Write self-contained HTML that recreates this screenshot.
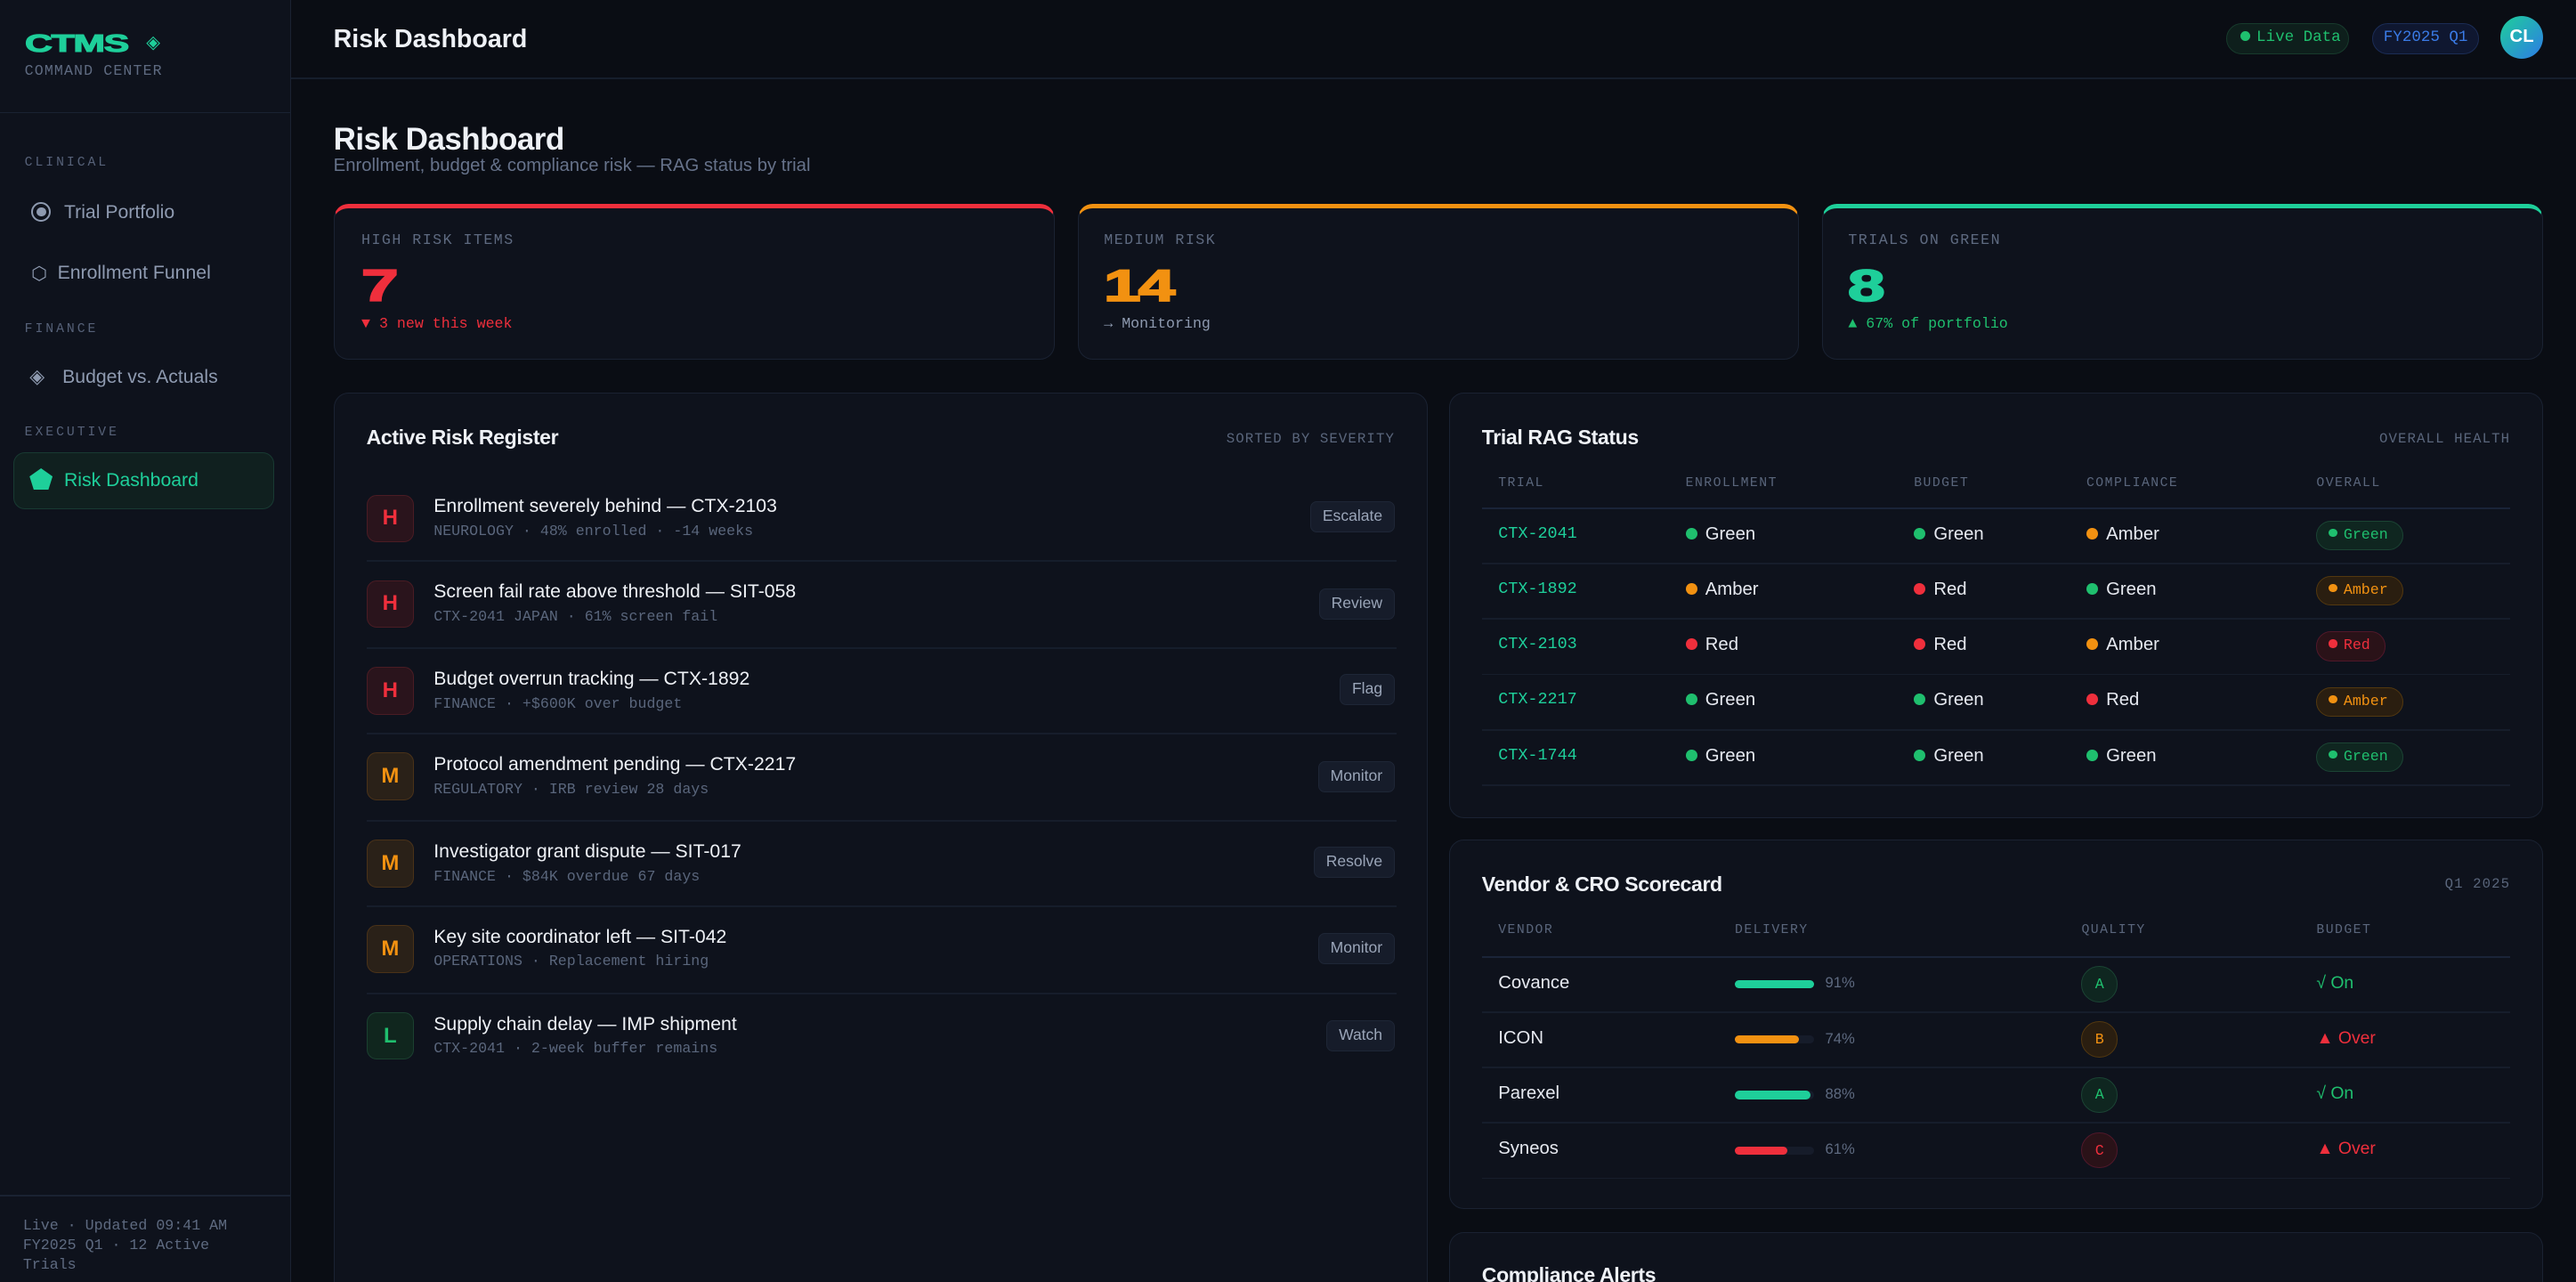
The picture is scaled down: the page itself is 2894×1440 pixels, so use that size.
<!DOCTYPE html>
<html><head><meta charset="utf-8"><style>
*{box-sizing:border-box;margin:0;padding:0}
html,body{width:2894px;height:1440px;overflow:hidden;background:#0a0d14}
#r{zoom:1.84566;width:1568px;height:780px;position:relative;font-family:"Liberation Sans",sans-serif;color:#e6e9f0;overflow:hidden}
.a{position:absolute;white-space:nowrap}
.m{font-family:"Liberation Mono",monospace}
.side{left:0;top:0;width:177px;height:780px;background:#0e121c;border-right:1px solid #1a2232}
.lbl{font-size:8px;letter-spacing:1.6px;color:#566178}
.nav{font-size:11.5px;color:#8e9ab0}
.card{background:#0e121c;border:1px solid #1a2232;border-radius:9px}
.kl{font-size:9px;letter-spacing:.8px;color:#5e6a80}
.kn{font-size:27px;font-weight:900;transform:scaleX(1.5);transform-origin:left;letter-spacing:-1px;-webkit-text-stroke:1px currentColor}
.ks{font-size:9px}
.ttl{font-size:12.5px;font-weight:bold;color:#eef1f6;letter-spacing:-.2px}
.rt{font-size:8.5px;letter-spacing:.6px;color:#5a667c}
.ic{width:29px;height:29px;border-radius:6px;display:flex;align-items:center;justify-content:center;font-weight:900;font-size:13px}
.icH{background:#2a141c;border:1px solid #4a1c24;color:#ef2f3c}
.icM{background:#2a2118;border:1px solid #4a3218;color:#f29111}
.icL{background:#10261e;border:1px solid #1b4030;color:#1fbf6e}
.it{font-size:11.5px;color:#eef1f6}
.im{font-size:9px;color:#5a667c}
.btn{height:19px;padding:0 7px;border-radius:4px;background:#161c2a;border:1px solid #1e2636;font-size:9.5px;color:#9aa5b8;line-height:17px}
.sep{height:1px;background:#161d2b}
.th{font-size:8px;letter-spacing:.8px;color:#5a667c}
.td{font-size:11px;color:#e6e9f0}
.dot{display:inline-block;width:7px;height:7px;border-radius:50%;margin-right:5px;vertical-align:0}
.g{background:#1fbf6e}.o{background:#f29111}.rd{background:#ef2f3c}
.pill{height:18px;border-radius:9px;font-size:9px;padding:0 9px 0 7px;line-height:16px}
.pg{background:#0f2620;border:1px solid #1b4434;color:#1fbf6e}
.po{background:#2a1e10;border:1px solid #53380f;color:#f29111}
.pr{background:#2a1218;border:1px solid #50182a;color:#ef2f3c}
.gr{width:22px;height:22px;border-radius:50%;font-size:9px;display:flex;align-items:center;justify-content:center}
</style></head><body><div id="r">
<div class="a side"></div>
<div class="a" style="left:15px;top:18px;font-size:15px;font-weight:900;color:#1ecf9a;transform:scaleX(1.55);transform-origin:left;letter-spacing:-.5px;-webkit-text-stroke:.6px #1ecf9a">CTMS</div>
<div class="a" style="left:89px;top:19px;font-size:11px;color:#1ecf9a">◈</div>
<div class="a m" style="left:15px;top:38px;font-size:9px;color:#5e6a80;letter-spacing:.6px">COMMAND CENTER</div>
<div class="a" style="left:0;top:68px;width:177px;height:1px;background:#1a2232"></div>
<div class="a m lbl" style="left:15px;top:95px">CLINICAL</div>
<div class="a" style="left:19px;top:123px;width:12px;height:12px;border-radius:50%;border:1.5px solid #8e9ab0;padding:2px"><div style="width:100%;height:100%;border-radius:50%;background:#8e9ab0"></div></div>
<div class="a nav" style="left:39px;top:123px">Trial Portfolio</div>
<div class="a" style="left:19px;top:160px;font-size:11px;color:#8e9ab0">⬡</div>
<div class="a nav" style="left:35px;top:160px">Enrollment Funnel</div>
<div class="a m lbl" style="left:15px;top:196px">FINANCE</div>
<div class="a" style="left:18px;top:222px;font-size:12px;color:#8e9ab0">◈</div>
<div class="a nav" style="left:38px;top:223px">Budget vs. Actuals</div>
<div class="a m lbl" style="left:15px;top:259px">EXECUTIVE</div>
<div class="a" style="left:8px;top:275px;width:159px;height:35px;border-radius:7px;background:#10201f;border:1px solid #183a32"></div>
<div class="a" style="left:18px;top:285px;width:14px;height:13px;background:#1ecf9a;clip-path:polygon(50% 0,100% 38%,82% 100%,18% 100%,0 38%)"></div>
<div class="a" style="left:39px;top:286px;font-size:11.5px;color:#1ecf9a">Risk Dashboard</div>
<div class="a" style="left:0;top:727px;width:177px;height:1px;background:#1a2232"></div>
<div class="a m" style="left:14px;top:740px;font-size:9px;line-height:12px;color:#5e6a80;white-space:normal;width:150px">Live · Updated 09:41 AM<br>FY2025 Q1 · 12 Active<br>Trials</div>

<div class="a" style="left:177px;top:47px;width:1391px;height:1px;background:#161e2c"></div>
<div class="a" style="left:203px;top:15px;font-size:15.5px;font-weight:bold;color:#eef1f6">Risk Dashboard</div>
<div class="a m" style="left:1355px;top:14px;width:75px;height:19px;border-radius:10px;background:#0e1f1c;border:1px solid #173a2c;font-size:9.5px;color:#1fbf6e;line-height:17px;padding-left:8px"><span class="dot g" style="width:6px;height:6px;margin-right:4px"></span>Live Data</div>
<div class="a m" style="left:1444px;top:14px;width:65px;height:19px;border-radius:10px;background:#0f1730;border:1px solid #1b2c55;font-size:9.5px;color:#3a7be6;line-height:17px;text-align:center">FY2025 Q1</div>
<div class="a" style="left:1522px;top:10px;width:26px;height:26px;border-radius:50%;background:linear-gradient(135deg,#1ecf9a,#2d7be6);font-size:11px;font-weight:bold;color:#fff;text-align:center;line-height:26px">CL</div>

<div class="a" style="left:203px;top:74px;font-size:19px;font-weight:bold;color:#eef1f6;letter-spacing:-.3px">Risk Dashboard</div>
<div class="a" style="left:203px;top:95px;font-size:11px;color:#66728a">Enrollment, budget &amp; compliance risk — RAG status by trial</div>

<div class="a card" style="left:203px;top:124px;width:439px;height:95px;border-top:3px solid #ef2f3c"></div>
<div class="a m kl" style="left:220px;top:141px">HIGH RISK ITEMS</div>
<div class="a kn" style="left:220px;top:158px;color:#ef2f3c">7</div>
<div class="a m ks" style="left:220px;top:192px;color:#ef2f3c">▼ 3 new this week</div>
<div class="a card" style="left:656px;top:124px;width:439px;height:95px;border-top:3px solid #f29111"></div>
<div class="a m kl" style="left:672px;top:141px">MEDIUM RISK</div>
<div class="a kn" style="left:672px;top:158px;color:#f29111">14</div>
<div class="a m ks" style="left:672px;top:192px;color:#8e9ab0">→ Monitoring</div>
<div class="a card" style="left:1109px;top:124px;width:439px;height:95px;border-top:3px solid #1ecf9a"></div>
<div class="a m kl" style="left:1125px;top:141px">TRIALS ON GREEN</div>
<div class="a kn" style="left:1125px;top:158px;color:#1ecf9a">8</div>
<div class="a m ks" style="left:1125px;top:192px;color:#1fbf6e">▲ 67% of portfolio</div>

<div class="a card" style="left:203px;top:239px;width:666px;height:600px"></div>
<div class="a ttl" style="left:223px;top:259px">Active Risk Register</div>
<div class="a m rt" style="right:719px;top:262px">SORTED BY SEVERITY</div>

<div class="a ic icH" style="left:223px;top:301px">H</div>
<div class="a it" style="left:264px;top:302px">Enrollment severely behind — CTX-2103</div>
<div class="a m im" style="left:264px;top:318px">NEUROLOGY · 48% enrolled · -14 weeks</div>
<div class="a btn" style="right:719px;top:305px">Escalate</div>
<div class="a sep" style="left:223px;top:341px;width:627px"></div>
<div class="a ic icH" style="left:223px;top:353px">H</div>
<div class="a it" style="left:264px;top:354px">Screen fail rate above threshold — SIT-058</div>
<div class="a m im" style="left:264px;top:370px">CTX-2041 JAPAN · 61% screen fail</div>
<div class="a btn" style="right:719px;top:358px">Review</div>
<div class="a sep" style="left:223px;top:394px;width:627px"></div>
<div class="a ic icH" style="left:223px;top:406px">H</div>
<div class="a it" style="left:264px;top:407px">Budget overrun tracking — CTX-1892</div>
<div class="a m im" style="left:264px;top:423px">FINANCE · +$600K over budget</div>
<div class="a btn" style="right:719px;top:410px">Flag</div>
<div class="a sep" style="left:223px;top:446px;width:627px"></div>
<div class="a ic icM" style="left:223px;top:458px">M</div>
<div class="a it" style="left:264px;top:459px">Protocol amendment pending — CTX-2217</div>
<div class="a m im" style="left:264px;top:475px">REGULATORY · IRB review 28 days</div>
<div class="a btn" style="right:719px;top:463px">Monitor</div>
<div class="a sep" style="left:223px;top:499px;width:627px"></div>
<div class="a ic icM" style="left:223px;top:511px">M</div>
<div class="a it" style="left:264px;top:512px">Investigator grant dispute — SIT-017</div>
<div class="a m im" style="left:264px;top:528px">FINANCE · $84K overdue 67 days</div>
<div class="a btn" style="right:719px;top:515px">Resolve</div>
<div class="a sep" style="left:223px;top:551px;width:627px"></div>
<div class="a ic icM" style="left:223px;top:563px">M</div>
<div class="a it" style="left:264px;top:564px">Key site coordinator left — SIT-042</div>
<div class="a m im" style="left:264px;top:580px">OPERATIONS · Replacement hiring</div>
<div class="a btn" style="right:719px;top:568px">Monitor</div>
<div class="a sep" style="left:223px;top:604px;width:627px"></div>
<div class="a ic icL" style="left:223px;top:616px">L</div>
<div class="a it" style="left:264px;top:617px">Supply chain delay — IMP shipment</div>
<div class="a m im" style="left:264px;top:633px">CTX-2041 · 2-week buffer remains</div>
<div class="a btn" style="right:719px;top:621px">Watch</div>

<div class="a card" style="left:882px;top:239px;width:666px;height:259px"></div>
<div class="a ttl" style="left:902px;top:259px">Trial RAG Status</div>
<div class="a m rt" style="right:40px;top:262px">OVERALL HEALTH</div>
<div class="a m th" style="left:912px;top:290px">TRIAL</div>
<div class="a m th" style="left:1026px;top:290px">ENROLLMENT</div>
<div class="a m th" style="left:1165px;top:290px">BUDGET</div>
<div class="a m th" style="left:1270px;top:290px">COMPLIANCE</div>
<div class="a m th" style="left:1410px;top:290px">OVERALL</div>
<div class="a" style="left:902px;top:309px;width:626px;height:1px;background:#1a2438"></div>

<div class="a card" style="left:882px;top:511px;width:666px;height:225px"></div>
<div class="a ttl" style="left:902px;top:531px">Vendor &amp; CRO Scorecard</div>
<div class="a m rt" style="right:40px;top:533px">Q1 2025</div>
<div class="a m th" style="left:912px;top:562px">VENDOR</div>
<div class="a m th" style="left:1056px;top:562px">DELIVERY</div>
<div class="a m th" style="left:1267px;top:562px">QUALITY</div>
<div class="a m th" style="left:1410px;top:562px">BUDGET</div>
<div class="a" style="left:902px;top:582px;width:626px;height:1px;background:#1a2438"></div>

<div class="a card" style="left:882px;top:750px;width:666px;height:100px"></div>
<div class="a ttl" style="left:902px;top:769px">Compliance Alerts</div>
</div>
<script>
var R=document.getElementById('r');
function add(h){R.insertAdjacentHTML('beforeend',h)}
var rows=[["CTX-2041","g","Green","g","Green","o","Amber","pg","g","Green"],
["CTX-1892","o","Amber","rd","Red","g","Green","po","o","Amber"],
["CTX-2103","rd","Red","rd","Red","o","Amber","pr","rd","Red"],
["CTX-2217","g","Green","g","Green","rd","Red","po","o","Amber"],
["CTX-1744","g","Green","g","Green","g","Green","pg","g","Green"]];
rows.forEach(function(r,i){var y=326+i*33.7;
add('<div class="a m" style="left:912px;top:'+(y-7)+'px;font-size:10px;color:#1ecf9a">'+r[0]+'</div>');
[[1026,1],[1165,3],[1270,5]].forEach(function(c){add('<div class="a td" style="left:'+c[0]+'px;top:'+(y-7)+'px"><span class="dot '+r[c[1]]+'"></span>'+r[c[1]+1]+'</div>')});
add('<div class="a m pill '+r[7]+'" style="left:1410px;top:'+(y-9)+'px"><span class="dot '+r[8]+'" style="width:5px;height:5px;margin-right:4px;vertical-align:1px"></span>'+r[9]+'</div>');
add('<div class="a" style="left:902px;top:'+(y+16.5)+'px;width:626px;height:1px;background:#161d2b"></div>');});
var v=[["Covance",91,"#1ecf9a",48,"A","pg","√ On","#1fbf6e"],["ICON",74,"#f29111",39,"B","po","▲ Over","#ef2f3c"],["Parexel",88,"#1ecf9a",46,"A","pg","√ On","#1fbf6e"],["Syneos",61,"#ef2f3c",32,"C","pr","▲ Over","#ef2f3c"]];
v.forEach(function(r,i){var y=599+i*33.7;
add('<div class="a td" style="left:912px;top:'+(y-7)+'px">'+r[0]+'</div>');
add('<div class="a" style="left:1056px;top:'+(y-2.5)+'px;width:48px;height:5px;border-radius:3px;background:#161c2a"><div style="width:'+r[3]+'px;height:5px;border-radius:3px;background:'+r[2]+'"></div></div>');
add('<div class="a" style="left:1111px;top:'+(y-6)+'px;font-size:9px;color:#5e6a80">'+r[1]+'%</div>');
add('<div class="a m gr '+r[5]+'" style="left:1267px;top:'+(y-11)+'px">'+r[4]+'</div>');
add('<div class="a" style="left:1410px;top:'+(y-7)+'px;font-size:10.5px;color:'+r[7]+'">'+r[6]+'</div>');
add('<div class="a" style="left:902px;top:'+(y+16.5)+'px;width:626px;height:1px;background:#161d2b"></div>');});
</script>
</body></html>
